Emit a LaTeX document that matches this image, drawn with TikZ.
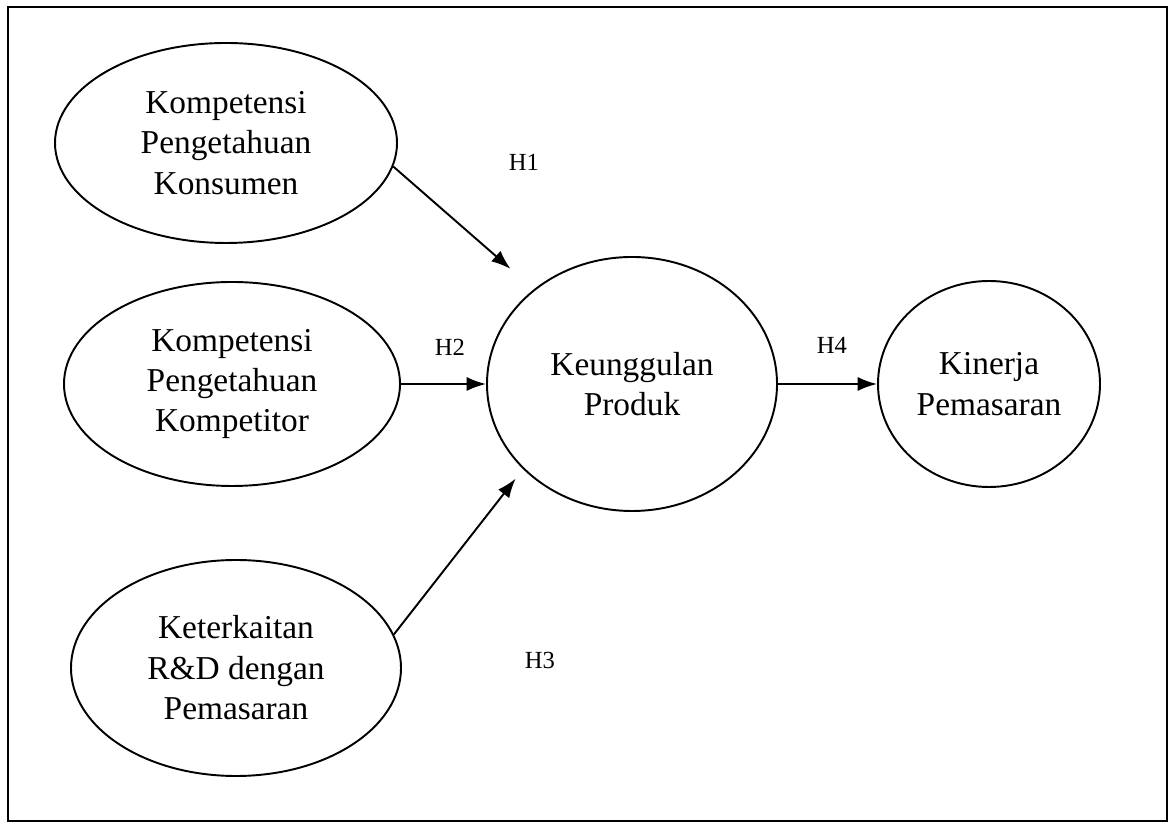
\documentclass[tikz,border=0pt]{standalone}
\usepackage{fontspec}
\setmainfont{Liberation Serif}
\usetikzlibrary{shapes.geometric, arrows.meta}
\tikzset{
    konstruk/.style = {ellipse, draw, line width=1.1pt, inner sep=0pt, align=center,
        font=\fontsize{19}{23}\selectfont},
    panah/.style = {-{Latex[length=11pt, width=8pt]}, line width=1.1pt},
    hipotesis/.style = {font=\fontsize{14}{16}\selectfont}
}
\begin{document}
\begin{tikzpicture}
        \useasboundingbox (0, 0) rectangle (23.42, 16.52);
        \draw [line width=1.1pt] (0.16, 0.1) rectangle (23.34, 16.38);
        \node [konstruk, minimum width=6.84cm, minimum height=4.0cm] (kpk) at (4.52, 13.66)
            {Kompetensi\\Pengetahuan\\Konsumen};
        \node [konstruk, minimum width=6.72cm, minimum height=4.08cm] (kpc) at (4.64, 8.84)
            {Kompetensi\\Pengetahuan\\Kompetitor};
        \node [konstruk, minimum width=6.6cm, minimum height=4.32cm] (krd) at (4.72, 3.16)
            {Keterkaitan\\R\&D dengan\\Pemasaran};
        \node [konstruk, minimum width=5.8cm, minimum height=5.08cm] (ku) at (12.64, 8.84)
            {Keunggulan\\Produk};
        \node [konstruk, minimum width=4.44cm, minimum height=4.12cm] (kp) at (19.78, 8.84)
            {Kinerja\\Pemasaran};
        \draw [panah, shorten >=0.62cm] (kpk.-8) -- (ku.136);
        \draw [panah] (kpc.east) -- (ku.west);
        \draw [panah, shorten >=0.24cm] (krd.12) -- (ku.218);
        \draw [panah] (ku.east) -- (kp.west);
        \node [hipotesis] (h1) at (10.48, 13.28) {H1};
        \node [hipotesis] (h2) at (9.0, 9.58) {H2};
        \node [hipotesis] (h3) at (10.8, 3.32) {H3};
        \node [hipotesis] (h4) at (16.64, 9.62) {H4};
\end{tikzpicture}
\end{document}
